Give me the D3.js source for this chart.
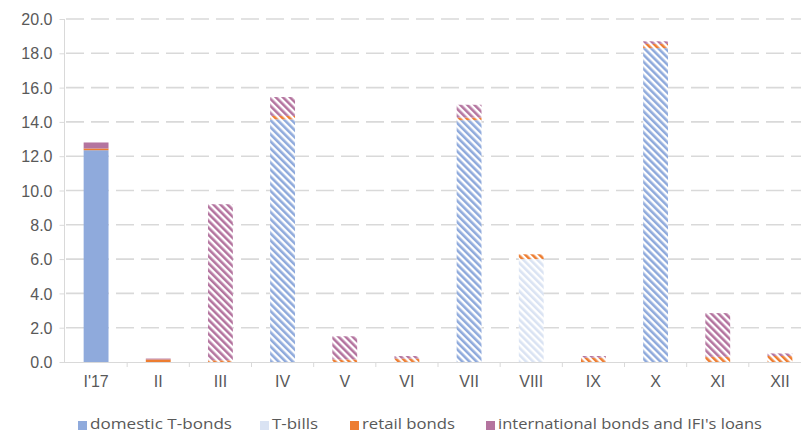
<!DOCTYPE html>
<html>
<head>
<meta charset="utf-8">
<script src="https://cdn.jsdelivr.net/npm/d3@7"></script>
<style>
  html, body { margin: 0; padding: 0; background: #fff; }
  svg { display: block; font-family: "Open Sans", "Liberation Sans", sans-serif; }
</style>
</head>
<body>
<svg id="chart" width="801" height="434"></svg>
<script>
// Monthly issuance, stacked by instrument
const months = ["I'17", "II", "III", "IV", "V", "VI", "VII", "VIII", "IX", "X", "XI", "XII"];
const domesticTBonds = [12.35, 0, 0, 14.15, 0, 0, 14.1, 0, 0, 18.3, 0, 0];
const tBills         = [0, 0, 0, 0, 0, 0, 0, 6.0, 0, 0, 0, 0];
const retailBonds    = [0.1, 0.15, 0.1, 0.2, 0.15, 0.2, 0.15, 0.28, 0.25, 0.25, 0.3, 0.35];
const intlBonds      = [0.35, 0.05, 9.1, 1.1, 1.35, 0.15, 0.75, 0, 0.1, 0.15, 2.55, 0.15];
const solidMonths = ["I'17", "II"];
const yTicks = [0, 2, 4, 6, 8, 10, 12, 14, 16, 18, 20];

const seriesNames = ["domestic T-bonds", "T-bills", "retail bonds", "international bonds and IFI's loans"];
const seriesKeys = ["dom", "tb", "ret", "intl"];
const colors = { dom: "#8faadc", tb: "#dae3f3", ret: "#ed7d31", intl: "#b4749f" };

const rows = months.map((m, i) => ({
  month: m, dom: domesticTBonds[i], tb: tBills[i], ret: retailBonds[i], intl: intlBonds[i]
}));

const svg = d3.select("#chart");
const x = d3.scaleBand().domain(months).range([65, 811]).paddingInner(0.6).paddingOuter(0.3);
const y = d3.scaleLinear().domain([0, 20]).range([362, 19]);

// diagonal hatch patterns
const defs = svg.append("defs");
seriesKeys.forEach(k => {
  const p = defs.append("pattern")
    .attr("id", "hatch-" + k)
    .attr("patternUnits", "userSpaceOnUse")
    .attr("width", 5).attr("height", 5)
    .attr("patternTransform", "rotate(-45)");
  p.append("rect").attr("width", 5).attr("height", 5).attr("fill", "#fff");
  p.append("rect").attr("width", 2.6).attr("height", 5).attr("fill", colors[k]);
});

// gridlines
svg.append("g").selectAll("line").data(yTicks.filter(t => t > 0)).join("line")
  .attr("x1", 66).attr("x2", 801)
  .attr("y1", d => y(d)).attr("y2", d => y(d))
  .attr("stroke", "#d9d9d9").attr("stroke-width", 1.6)
  .attr("stroke-dasharray", "18,7");

// y axis
const yAxis = d3.axisLeft(y).tickValues(yTicks).tickFormat(d3.format(".1f")).tickSize(5).tickPadding(7);
const gy = svg.append("g").attr("transform", "translate(64.5,0)").call(yAxis);
gy.select(".domain").attr("stroke", "#d9d9d9").attr("d", "M0,362V19");
gy.selectAll(".tick line").attr("stroke", "#d9d9d9");
gy.selectAll("text").attr("fill", "#595959").style("font-size", "16px").attr("dy", "0.35em");

// x axis
const xAxis = d3.axisBottom(x).tickSize(0).tickPadding(13);
const gx = svg.append("g").attr("transform", "translate(0,362.5)").call(xAxis);
gx.select(".domain").attr("stroke", "#d9d9d9").attr("d", "M64,0H801");
gx.selectAll("text").attr("fill", "#595959").style("font-size", "16px");
// category separators
const step = x.step();
svg.append("g").selectAll("line").data(months.slice(1)).join("line")
  .attr("x1", d => x(d) - step * x.paddingInner() / 2).attr("x2", d => x(d) - step * x.paddingInner() / 2)
  .attr("y1", 362).attr("y2", 367)
  .attr("stroke", "#d9d9d9").attr("stroke-width", 1);

// stacked bars
const stack = d3.stack().keys(seriesKeys)(rows);
svg.append("g").selectAll("g").data(stack).join("g")
  .selectAll("rect").data(s => s.map(d => ({ key: s.key, d }))).join("rect")
  .filter(o => o.d[1] - o.d[0] > 0)
  .attr("x", o => x(o.d.data.month))
  .attr("width", x.bandwidth())
  .attr("y", o => y(o.d[1]))
  .attr("height", o => y(o.d[0]) - y(o.d[1]))
  .attr("fill", o => solidMonths.includes(o.d.data.month) ? colors[o.key] : "url(#hatch-" + o.key + ")");

// legend
const legendX = [78, 260, 350, 486];
const legendW = [142, 46, 93, 264];
const lg = svg.append("g").selectAll("g").data(seriesKeys).join("g")
  .attr("transform", (k, i) => `translate(${legendX[i]},424)`);
lg.append("rect").attr("x", 0).attr("y", -3).attr("width", 9).attr("height", 9)
  .attr("fill", k => colors[k]);
lg.append("text").attr("x", 12).attr("y", 0).attr("dy", "0.35em")
  .attr("fill", "#595959").style("font-size", "15px")
  .attr("textLength", (k, i) => legendW[i]).attr("lengthAdjust", "spacingAndGlyphs")
  .text((k, i) => seriesNames[i]);
</script>
</body>
</html>
